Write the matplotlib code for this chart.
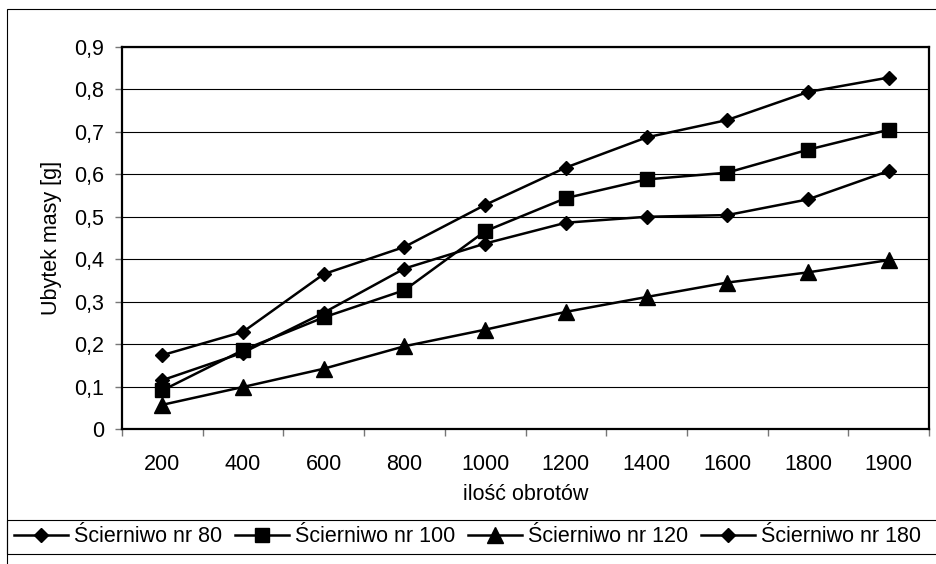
import numpy as np
import matplotlib
matplotlib.use("Agg")
import matplotlib.pyplot as plt
from matplotlib.ticker import FuncFormatter
from matplotlib.patches import Rectangle

plt.rcParams['font.family'] = ['Liberation Sans', 'DejaVu Sans']

# ---- data ----
obroty = ["200", "400", "600", "800", "1000", "1200", "1400", "1600", "1800", "1900"]
nr80 = [0.174, 0.229, 0.365, 0.429, 0.528, 0.616, 0.687, 0.728, 0.794, 0.828]
nr100 = [0.091, 0.186, 0.263, 0.327, 0.466, 0.544, 0.588, 0.604, 0.658, 0.705]
nr120 = [0.057, 0.099, 0.142, 0.195, 0.234, 0.276, 0.311, 0.345, 0.369, 0.398]
nr180 = [0.115, 0.180, 0.274, 0.378, 0.437, 0.486, 0.500, 0.504, 0.541, 0.608]

series = [
    ("Ścierniwo nr 80", nr80, "D", 7.6),
    ("Ścierniwo nr 100", nr100, "s", 10.5),
    ("Ścierniwo nr 120", nr120, "^", 11),
    ("Ścierniwo nr 180", nr180, "D", 7.6),
]

fs = 15.5
fig = plt.figure(figsize=(9.36, 5.64), dpi=100)
ax = fig.add_axes([122 / 936, 1 - 429 / 564, 807 / 936, 382 / 564])

x = np.arange(len(obroty)) + 0.5
for name, vals, mk, ms in series:
    ax.plot(x, vals, color="black", lw=1.8, marker=mk, ms=ms,
            mfc="black", mec="black", label=name, zorder=3)

ax.set_xlim(0, len(obroty))
ax.set_ylim(0, 0.9)
ax.set_yticks(np.arange(0, 0.91, 0.1))
ax.yaxis.set_major_formatter(FuncFormatter(
    lambda v, p: "0" if abs(v) < 1e-9 else f"{v:.1f}".replace(".", ",")))
ax.grid(axis="y", color="black", lw=0.8, zorder=1)

# ticks between categories, labels in the middle
ax.set_xticks(np.arange(len(obroty) + 1))
ax.set_xticklabels([])
ax.set_xticks(x, minor=True)
ax.set_xticklabels(obroty, minor=True)
ax.tick_params(axis="x", which="major", length=5, width=1, color="#777777", direction="out")
ax.tick_params(axis="x", which="minor", length=0, pad=18, labelsize=fs)
ax.tick_params(axis="y", length=5, width=1, color="#777777", pad=8, labelsize=fs)

for s in ax.spines.values():
    s.set_linewidth(1.6)
    s.set_color("black")

ax.set_xlabel("ilość obrotów", fontsize=fs)
ax.xaxis.set_label_coords(0.5, -0.143)
ax.set_ylabel("Ubytek masy [g]", fontsize=fs)
ax.yaxis.set_label_coords(-0.074, 0.5)

# outer frame and legend box (cut off at right and bottom like the original)
fig.patches.append(Rectangle((7 / 936, -0.1), 1.2, 1 - 9 / 564 + 0.1,
                             transform=fig.transFigure, fill=False,
                             ec="black", lw=0.8))
fig.patches.append(Rectangle((7 / 936, 1 - 554 / 564), 1.2, 34 / 564,
                             transform=fig.transFigure, fill=False,
                             ec="black", lw=0.8))

fig.legend(loc="center left", bbox_to_anchor=(14 / 936, 1 - 537 / 564),
           ncol=4, frameon=False, fontsize=fs, borderpad=0, borderaxespad=0,
           handlelength=2.5, handletextpad=0.28, columnspacing=0.6)

fig.savefig("out.png", dpi=100)
